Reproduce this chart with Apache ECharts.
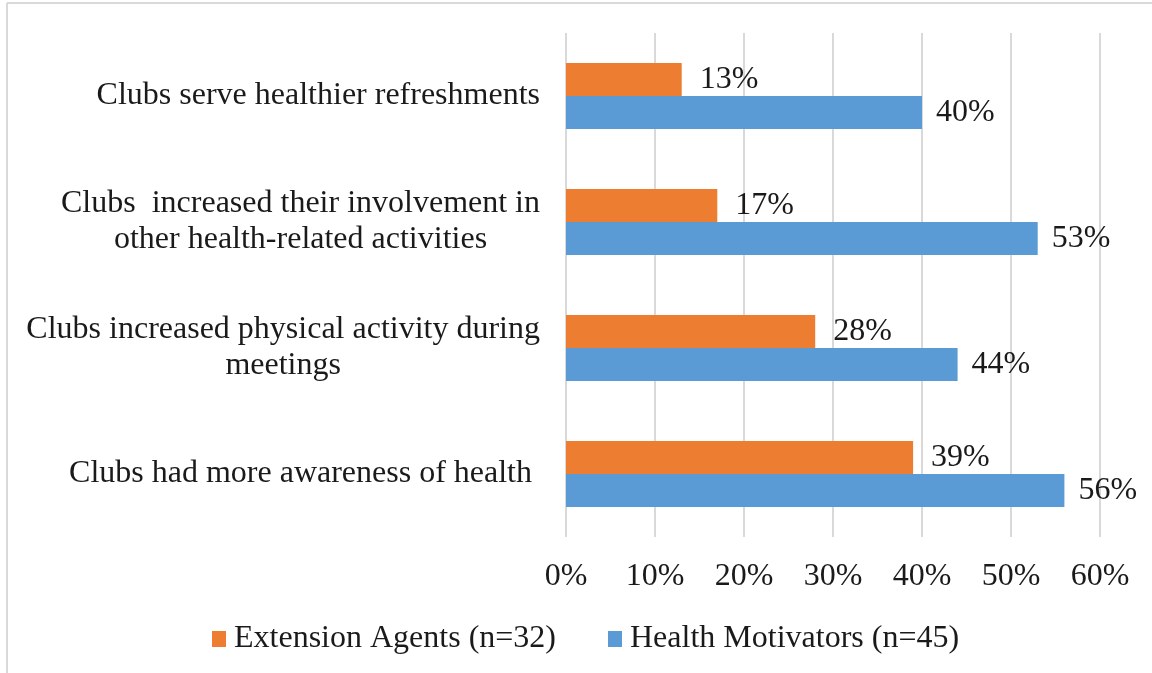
<!DOCTYPE html>
<html>
<head>
<meta charset="utf-8">
<script src="https://cdn.jsdelivr.net/npm/echarts@6/dist/echarts.min.js"></script>
<style>
  html, body { margin: 0; padding: 0; background: #fff; }
  #main { width: 1152px; height: 673px; }
</style>
</head>
<body>
<div id="main"></div>
<script>
// categories bottom -> top (category axis on y starts at the bottom)
var categories = [
    'Clubs had more awareness of health ',
    'Clubs increased physical activity during\nmeetings',
    'Clubs  increased their involvement in\nother health-related activities',
    'Clubs serve healthier refreshments'
];
var agentsName = 'Extension Agents (n=32)';
var motivatorsName = 'Health Motivators (n=45)';
var agentsValues = [39, 28, 17, 13];
var motivatorsValues = [56, 44, 53, 40];
var tickValues = [0, 10, 20, 30, 40, 50, 60];

var font = '"Liberation Serif", "Times New Roman", serif';
var fontSize = 32;

var myChart = echarts.init(document.getElementById('main'));

var option = {
    backgroundColor: '#fff',
    animation: false,
    textStyle: { fontFamily: font },
    graphic: [
        // only the top and left edges of the chart frame are visible
        { type: 'line', shape: { x1: 7, y1: 3, x2: 1152, y2: 3 }, style: { stroke: '#d9d9d9', lineWidth: 2 } },
        { type: 'line', shape: { x1: 7, y1: 3, x2: 7, y2: 673 }, style: { stroke: '#d9d9d9', lineWidth: 2 } }
    ],
    grid: { left: 566, right: 52, top: 33, bottom: 136 },
    legend: {
        data: [agentsName, motivatorsName],
        left: 207,
        top: 618,
        itemWidth: 14,
        itemHeight: 16,
        itemGap: 52,
        icon: 'rect',
        textStyle: { fontFamily: font, fontSize: fontSize, color: '#1a1a1a', padding: [0, 0, 0, 3] }
    },
    xAxis: {
        type: 'value',
        min: 0,
        max: 60,
        interval: 10,
        axisLine: { show: false },
        axisTick: { show: false },
        splitLine: { lineStyle: { color: '#d9d9d9', width: 2 } },
        axisLabel: {
            margin: 24,
            fontFamily: font,
            fontSize: fontSize,
            color: '#1a1a1a',
            formatter: function (v) {
                return tickValues.indexOf(v) >= 0 ? v + '%' : '';
            }
        }
    },
    yAxis: {
        type: 'category',
        data: categories,
        axisLine: { show: false },
        axisTick: { show: false },
        axisLabel: {
            margin: 26,
            align: 'right',
            lineHeight: 36,
            formatter: function (v) {
                return v.split('\n').map(function (s) { return '{c|' + s + '}'; }).join('\n');
            },
            rich: {
                c: { align: 'center', fontFamily: font, fontSize: fontSize, color: '#1a1a1a', lineHeight: 36 }
            }
        }
    },
    series: [
        {
            name: agentsName,
            type: 'bar',
            data: agentsValues,
            barWidth: 33,
            barGap: '0%',
            itemStyle: { color: '#ED7D31' },
            label: {
                show: true,
                position: 'right',
                distance: 18,
                formatter: '{c}%',
                fontFamily: font,
                fontSize: fontSize,
                color: '#1a1a1a'
            },
            z: 3
        },
        {
            name: motivatorsName,
            type: 'bar',
            data: motivatorsValues,
            barWidth: 33,
            barGap: '0%',
            itemStyle: { color: '#5B9BD5' },
            label: {
                show: true,
                position: 'right',
                distance: 14,
                formatter: '{c}%',
                fontFamily: font,
                fontSize: fontSize,
                color: '#1a1a1a'
            },
            z: 2
        }
    ]
};

myChart.setOption(option);
</script>
</body>
</html>
